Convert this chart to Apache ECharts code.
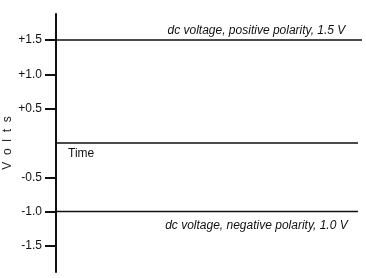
<!DOCTYPE html>
<html><head><meta charset="utf-8">
<script src="https://cdn.jsdelivr.net/npm/echarts@6/dist/echarts.min.js"></script>
<style>html,body{margin:0;padding:0;background:#fff}#c{width:366px;height:278px}</style>
</head><body><div id="c"></div>
<script>
const tickValues = [1.5, 1.0, 0.5, -0.5, -1.0, -1.5];
const tickLabels = ["+1.5", "+1.0", "+0.5", "-0.5", "-1.0", "-1.5"];
const timeX = [0, 65.5, 100];
const positiveLine = [1.5, 1.5, 1.5];
const zeroLine = [0, 0, 0];
const negativeLine = [-1.0, -1.0, -1.0];
const annotations = ["dc voltage, positive polarity, 1.5 V", "Time", "dc voltage, negative polarity, 1.0 V"];
const axisName = "V  o  l  t  s";
const lineEnds = [100, 98.7, 98.7];

const chart = echarts.init(document.getElementById('c'), null, {renderer: 'canvas'});
const font = 'Liberation Sans, Arial, sans-serif';
function mk(vals, end) {
  return timeX.map((x, i) => [Math.min(x, end), vals[i]]);
}
const posData = mk(positiveLine, lineEnds[0]);
const zeroData = mk(zeroLine, lineEnds[1]);
const negData = mk(negativeLine, lineEnds[2]);
posData[1] = {value: posData[1], label: {show: true, position: 'top', distance: 3, formatter: annotations[0], fontStyle: 'italic', fontSize: 12, color: '#111', fontFamily: font}};
negData[1] = {value: negData[1], label: {show: true, position: 'bottom', distance: 8, formatter: annotations[2], fontStyle: 'italic', fontSize: 12, color: '#111', fontFamily: font}};
zeroData[0] = {value: zeroData[0], label: {show: true, position: 'bottom', distance: 5, align: 'left', offset: [12, 0], formatter: annotations[1], fontSize: 12, color: '#111', fontFamily: font}};
const lineStyle = {color: '#111', width: 1.5};
const common = {type: 'line', symbol: 'circle', symbolSize: 0, showSymbol: true, lineStyle, silent: true, itemStyle: {color: '#111'}, label: {show: false}};
chart.setOption({
  animation: false,
  backgroundColor: '#fff',
  grid: {left: 56, right: 4, top: 14, bottom: 6, containLabel: false, outerBoundsMode: 'none'},
  xAxis: {type: 'value', min: 0, max: 100, show: false},
  yAxis: {
    type: 'value', min: -1.88, max: 1.88,
    name: axisName, nameLocation: 'middle', nameRotate: 90, nameGap: 42, nameMoveOverlap: false,
    nameTextStyle: {fontSize: 12, color: '#222', fontFamily: font},
    axisLine: {show: true, lineStyle: {color: '#111', width: 2}},
    axisTick: {show: true, length: 11, customValues: tickValues, lineStyle: {color: '#111', width: 2}},
    axisLabel: {show: true, customValues: tickValues, margin: 14, fontSize: 12, color: '#111', fontFamily: font,
      formatter: v => { const i = tickValues.findIndex(t => Math.abs(t - v) < 1e-6); return i >= 0 ? tickLabels[i] : ''; }},
    splitLine: {show: false}
  },
  series: [
    Object.assign({}, common, {data: posData}),
    Object.assign({}, common, {data: zeroData}),
    Object.assign({}, common, {data: negData})
  ]
});
</script></body></html>
